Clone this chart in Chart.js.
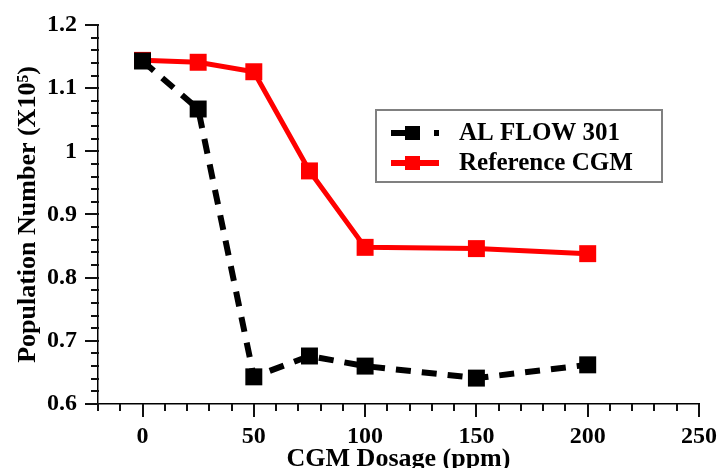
<!DOCTYPE html>
<html>
<head>
<meta charset="utf-8">
<script src="https://cdn.jsdelivr.net/npm/chart.js@4.4.1/dist/chart.umd.min.js"></script>
<style>
html,body{margin:0;padding:0;background:#fff;}
#wrap{width:722px;height:468px;}
</style>
</head>
<body>
<div id="wrap"><canvas id="c" width="722" height="468"></canvas></div>
<script>
const dosage = [0, 25, 50, 75, 100, 150, 200];
const alFlow301 = [1.143, 1.067, 0.643, 0.676, 0.660, 0.641, 0.662];
const referenceCGM = [1.144, 1.141, 1.126, 0.969, 0.848, 0.846, 0.838];
const seriesNames = ['AL FLOW 301', 'Reference CGM'];
const xTitle = 'CGM Dosage (ppm)';
const yTitle = 'Population Number (X10\u2075)';
const xRange = [-20, 250], xMinorStep = 10, xMajorStep = 50;
const yRange = [0.6, 1.2], yMinorStep = 0.02, yMajorStep = 0.1;

const FONT = '"Liberation Serif", "Times New Roman", serif';

function stepValues(min, max, step) {
  const out = [];
  const n = Math.round((max - min) / step);
  for (let i = 0; i <= n; i++) out.push(+(min + i * step).toFixed(6));
  return out;
}
function isMajor(v, step) {
  const r = v / step;
  return Math.abs(r - Math.round(r)) < 1e-6;
}

const tickPlugin = {
  id: 'axisTicks',
  afterDraw(chart) {
    const ctx = chart.ctx;
    const xs = chart.scales.x, ys = chart.scales.y;
    const area = chart.chartArea;
    const axisY = Math.round(area.bottom);
    const axisX = Math.round(area.left);
    ctx.save();
    ctx.fillStyle = '#111';
    stepValues(xRange[0], xRange[1], xMinorStep).forEach(v => {
      const px = Math.round(xs.getPixelForValue(v));
      const len = isMajor(v, xMajorStep) ? 13 : 7;
      ctx.fillRect(px - 1, axisY, 2, len);
    });
    stepValues(yRange[0], yRange[1], yMinorStep).forEach(v => {
      const py = Math.round(ys.getPixelForValue(v));
      const len = isMajor(v, yMajorStep) ? 13 : 7;
      ctx.fillRect(axisX - len, py - 1, len + 1, 2);
    });
    ctx.fillRect(axisX - 1, axisY, 2, 4);
    ctx.restore();
  }
};

const legendPlugin = {
  id: 'customLegend',
  afterDraw(chart) {
    const ctx = chart.ctx;
    ctx.save();
    const bx = 376, by = 110, bw = 286, bh = 72;
    ctx.strokeStyle = '#808080';
    ctx.lineWidth = 2;
    ctx.strokeRect(bx, by, bw, bh);
    const rows = [
      {y: 133, color: '#000', dash: [29, 14], name: seriesNames[0]},
      {y: 163, color: '#ff0000', dash: [], name: seriesNames[1]}
    ];
    rows.forEach(r => {
      ctx.strokeStyle = r.color;
      ctx.fillStyle = r.color;
      ctx.lineWidth = 6;
      ctx.setLineDash(r.dash);
      ctx.beginPath();
      ctx.moveTo(391, r.y);
      ctx.lineTo(439, r.y);
      ctx.stroke();
      ctx.setLineDash([]);
      ctx.fillRect(405, r.y - 7, 15, 14);
      ctx.fillStyle = '#000';
      ctx.font = 'bold 25px ' + FONT;
      ctx.textBaseline = 'middle';
      ctx.textAlign = 'left';
      ctx.fillText(r.name, 459, r.y + 1);
    });
    ctx.restore();
  }
};

new Chart(document.getElementById('c'), {
  type: 'line',
  data: {
    datasets: [
      {
        label: seriesNames[0],
        data: dosage.map((x, i) => ({x: x, y: alFlow301[i]})),
        borderColor: '#000',
        backgroundColor: '#000',
        borderWidth: 6,
        borderDash: [15, 11],
        pointStyle: 'rect',
        pointRadius: 12,
        pointBorderWidth: 0,
        tension: 0,
        fill: false
      },
      {
        label: seriesNames[1],
        data: dosage.map((x, i) => ({x: x, y: referenceCGM[i]})),
        borderColor: '#ff0000',
        backgroundColor: '#ff0000',
        borderWidth: 5,
        pointStyle: 'rect',
        pointRadius: 12,
        pointBorderWidth: 0,
        tension: 0,
        fill: false
      }
    ]
  },
  options: {
    responsive: false,
    animation: false,
    devicePixelRatio: 1,
    layout: {padding: {top: 25, right: 17, bottom: 0, left: 0}},
    plugins: {legend: {display: false}, tooltip: {enabled: false}},
    scales: {
      x: {
        type: 'linear',
        min: xRange[0], max: xRange[1],
        afterBuildTicks: s => { s.ticks = stepValues(xRange[0], xRange[1], xMajorStep / 5).filter(v => isMajor(v, xMajorStep)).map(v => ({value: v})); },
        afterFit: s => { s.height = 64; },
        border: {display: true, color: '#000', width: 1.5},
        grid: {drawOnChartArea: false, drawTicks: true, tickLength: 13, color: 'rgba(0,0,0,0)', tickColor: 'rgba(0,0,0,0)'},
        ticks: {
          autoSkip: false, maxRotation: 0, padding: 5,
          color: '#000', font: {family: FONT, size: 24, weight: 'bold'},
          callback: v => String(Math.round(v))
        },
        title: {display: true, text: xTitle, color: '#000', font: {family: FONT, size: 26, weight: 'bold', lineHeight: 1}, padding: {top: 0, bottom: -4}}
      },
      y: {
        type: 'linear',
        min: yRange[0], max: yRange[1],
        afterBuildTicks: s => { s.ticks = stepValues(yRange[0], yRange[1], yMajorStep).map(v => ({value: v})); },
        afterFit: s => { s.width = 98; },
        border: {display: true, color: '#000', width: 1.5},
        grid: {drawOnChartArea: false, drawTicks: true, tickLength: 13, color: 'rgba(0,0,0,0)', tickColor: 'rgba(0,0,0,0)'},
        ticks: {
          autoSkip: false, padding: 8,
          color: '#000', font: {family: FONT, size: 24, weight: 'bold'},
          callback: v => String(+v.toFixed(1))
        },
        title: {display: true, text: yTitle, color: '#000', font: {family: FONT, size: 26, weight: 'bold', lineHeight: 1}, padding: {top: 15, bottom: 0}}
      }
    }
  },
  plugins: [tickPlugin, legendPlugin]
});
</script>
</body>
</html>
